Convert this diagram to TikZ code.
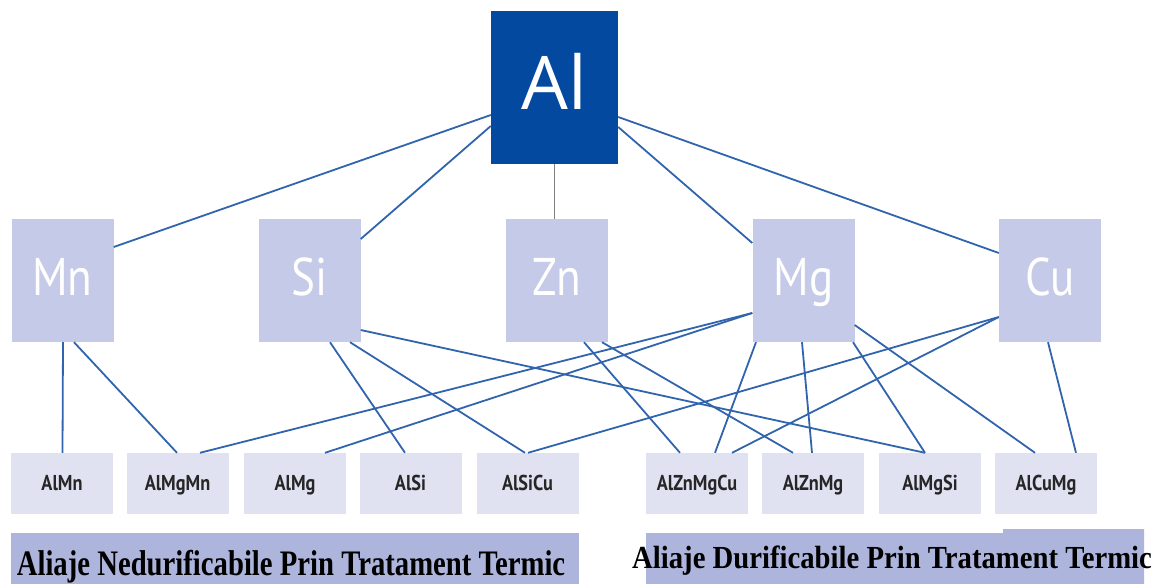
\documentclass[tikz,border=0pt]{standalone}
\usepackage{graphicx}
\usepackage{fontspec}
\setmainfont{Liberation Serif}
\newfontfamily\alfont{Open Sans}
\newfontfamily\dinfont[FakeStretch=0.85]{PT Sans}
\definecolor{alblue}{HTML}{0349A0}
\definecolor{midbox}{HTML}{C5CAE8}
\definecolor{lowbox}{HTML}{E0E2F2}
\definecolor{bandcol}{HTML}{AEB5DC}
\definecolor{linkblue}{HTML}{3065AD}
\definecolor{linkgray}{HTML}{7F7F7F}
\tikzset{
  topbox/.style={fill=alblue, inner sep=0pt, minimum width=127pt, minimum height=153pt,
    text=white, font=\alfont\fontsize{74}{74}\selectfont, text height=60pt, text depth=17pt},
  elbox/.style={fill=midbox, inner sep=0pt, minimum width=102pt, minimum height=123pt,
    text=white, font=\dinfont\fontsize{53}{53}\selectfont, text height=40pt, text depth=11pt},
  alloybox/.style={fill=lowbox, inner sep=0pt, minimum width=102pt, minimum height=61pt,
    text=black!85, font=\dinfont\bfseries\fontsize{21.5}{21.5}\selectfont, text height=17pt, text depth=3pt},
  link/.style={draw=linkblue, line width=1.8pt},
  glink/.style={draw=linkgray, line width=1.8pt},
  bandtext/.style={anchor=base, inner sep=0pt, font=\bfseries\fontsize{28.7}{30}\selectfont}
}
\begin{document}
\begin{tikzpicture}[x=1pt,y=-1pt]
\useasboundingbox (0,0) rectangle (1160,584);
% bands
\node[fill=bandcol, inner sep=0pt, minimum width=568pt, minimum height=51pt, anchor=north west] (band1) at (11,533) {};
\path[fill=bandcol] (646,584) -- (646,533) -- (1003,533) -- (1003,529) -- (1144,529) -- (1144,584) -- cycle;
\coordinate (band2) at (892,568);
\node[bandtext] (lab1) at (291,575) {\scalebox{1}[1.25]{Aliaje Nedurificabile Prin Tratament Termic}};
\node[bandtext] (lab2) at (band2) {\scalebox{1}[1.12]{Aliaje Durificabile Prin Tratament Termic}};
% boxes
\node[topbox] (Al) at (554.5,87.5) {Al};
\node[elbox] (Mn) at (62.5,280.5) {Mn};
\node[elbox] (Si) at (309.5,280.5) {Si};
\node[elbox] (Zn) at (557,280.5) {Zn};
\node[elbox] (Mg) at (803.5,280.5) {Mg};
\node[elbox] (Cu) at (1050,280.5) {Cu};
\node[alloybox] (AlMn) at (62,483.5) {AlMn};
\node[alloybox] (AlMgMn) at (177.5,483.5) {AlMgMn};
\node[alloybox] (AlMg) at (295,483.5) {AlMg};
\node[alloybox] (AlSi) at (410.5,483.5) {AlSi};
\node[alloybox] (AlSiCu) at (527.5,483.5) {AlSiCu};
\node[alloybox] (AlZnMgCu) at (697,483.5) {AlZnMgCu};
\node[alloybox] (AlZnMg) at (813,483.5) {AlZnMg};
\node[alloybox] (AlMgSi) at (930,483.5) {AlMgSi};
\node[alloybox] (AlCuMg) at (1046,483.5) {AlCuMg};
% Al links
\draw[link] ([yshift=-27.5pt]Al.west) -- ([yshift=33.5pt]Mn.east);
\draw[link] ([yshift=-38.5pt]Al.west) -- ([yshift=41.5pt]Si.east);
\draw[link] ([yshift=-39.5pt]Al.east) -- ([yshift=37.5pt]Mg.west);
\draw[link] ([yshift=-29.5pt]Al.east) -- ([yshift=27.5pt]Cu.west);
\draw[glink] (Al.south) -- (Al.south |- Zn.north);
% element to alloy links
\draw[link] ([xshift=0.5pt]Mn.south) -- (Mn.south |- AlMn.north);
\draw[link] ([xshift=11.5pt]Mn.south) -- ([xshift=-0.5pt]AlMgMn.north);
\draw[link] ([xshift=20.5pt]Si.south) -- ([xshift=-5.5pt]AlSi.north);
\draw[link] ([xshift=40.5pt]Si.south) -- ([xshift=-2.5pt]AlSiCu.north);
\draw[link] ([yshift=-49.5pt]Si.east) -- ([xshift=-5pt]AlMgSi.north);
\draw[link] ([xshift=27pt]Zn.south) -- ([xshift=-17pt]AlZnMgCu.north);
\draw[link] ([xshift=45pt]Zn.south) -- ([xshift=-20pt]AlZnMg.north);
\draw[link] ([yshift=-32.5pt]Mg.west) -- ([xshift=22.5pt]AlMgMn.north);
\draw[link] ([yshift=-32.5pt]Mg.west) -- ([xshift=30pt]AlMg.north);
\draw[link] ([xshift=-47.5pt]Mg.south) -- ([xshift=18pt]AlZnMgCu.north);
\draw[link] ([xshift=-1.5pt]Mg.south) -- ([xshift=-1pt]AlZnMg.north);
\draw[link] ([xshift=49.5pt]Mg.south) -- ([xshift=-5pt]AlMgSi.north);
\draw[link] ([yshift=-44.5pt]Mg.east) -- ([xshift=-11pt]AlCuMg.north);
\draw[link] ([yshift=-36.5pt]Cu.west) -- ([xshift=0.5pt]AlSiCu.north);
\draw[link] ([yshift=-36.5pt]Cu.west) -- ([xshift=35pt]AlZnMgCu.north);
\draw[link] ([xshift=-2pt]Cu.south) -- ([xshift=30pt]AlCuMg.north);
\end{tikzpicture}
\end{document}
